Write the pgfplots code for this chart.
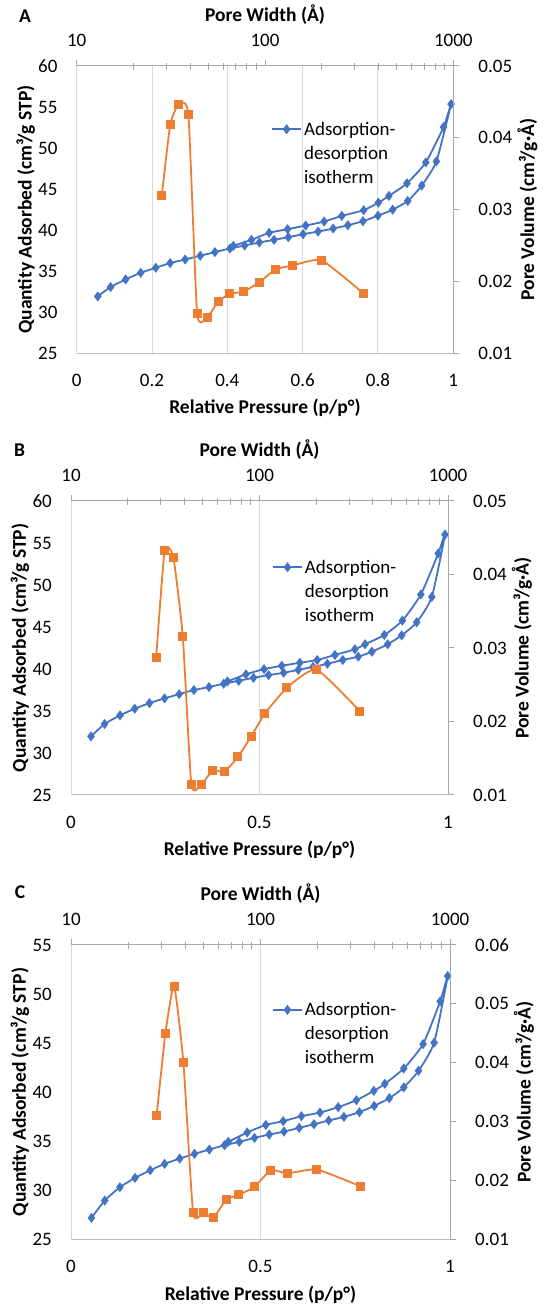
\documentclass[border=0pt]{standalone}
\usepackage{fontspec}
\setmainfont{Carlito}
\usepackage{pgfplots}
\pgfplotsset{compat=1.18}
\definecolor{xblue}{HTML}{4472C4}
\definecolor{xorange}{HTML}{ED7D31}
\definecolor{gridc}{HTML}{D9D9D9}
\definecolor{axgray}{HTML}{BFBFBF}
\definecolor{axdark}{HTML}{A6A6A6}
\newcommand{\tfont}{\fontsize{19bp}{24bp}\selectfont}
\newcommand{\lfont}{\fontsize{19.5bp}{24bp}\selectfont\bfseries}
\pgfplotsset{
 myprim/.style={
   scale only axis, anchor=south west, xmin=0, xmax=1,
   axis x line*=bottom, axis y line*=left,
   x axis line style={draw=axgray, line width=1bp, -},
   y axis line style={draw=gridc, line width=1bp, -},
   xmajorgrids, major grid style={draw=gridc, line width=1bp},
   major tick length=0pt, minor tick num=0,
   tick label style={font=\tfont},
   scaled ticks=false,
   xticklabel style={anchor=center, inner sep=0pt, yshift=-27bp},
   yticklabel style={anchor=east, inner sep=0pt, xshift=-19bp},
   every axis x label/.style={font=\lfont, at={([yshift=-55bp]axis description cs:0.5,0)}, anchor=center},
   every axis y label/.style={font=\lfont, at={([xshift=-51bp]axis description cs:0,0.5)}, anchor=center, rotate=90},
   xlabel={Relative Pressure (p/p°)},
   ylabel={Quantity Adsorbed (cm³/g STP)},
   legend image code/.code={\draw[mark repeat=2,mark phase=2,##1] plot coordinates {(0bp,6bp) (14.5bp,6bp) (29bp,6bp)};},
   legend cell align=left,
 },
 myleg/.style={legend style={at={(axis description cs:#1)}, anchor=north west, draw=none, fill=none, inner sep=0pt, font=\tfont, nodes={inner xsep=2bp, inner ysep=0pt}, cells={anchor=base west}}},
 mysec/.style={
   scale only axis, anchor=south west,
   xmin=10, xmax=1000,
   axis x line*=top, axis y line*=right,
   axis line style={draw=axdark, line width=1bp, -},
   xtick={10,100,1000}, xticklabels={10,100,1000},
   minor xtick={},
   extra x ticks={20,30,40,50,60,70,80,90,200,300,400,500,600,700,800,900},
   extra x tick labels={},
   extra x tick style={tick align=inside, major tick length=4bp, grid=none},
   tick align=outside, major tick length=6bp,
   tick style={draw=axdark, line width=1bp},
   tick label style={font=\tfont},
   scaled ticks=false,
   xticklabel style={anchor=center, inner sep=0pt, yshift=20bp},
   yticklabel style={anchor=west, inner sep=0pt, xshift=19bp},
   every axis x label/.style={font=\lfont, at={([yshift=51bp]axis description cs:0.5,1)}, anchor=center},
   every axis y label/.style={font=\lfont, at={([xshift=74bp]axis description cs:1,0.5)}, anchor=center, rotate=90},
   xlabel={Pore Width (Å)},
   ylabel={Pore Volume (cm³/g·Å)},
 },
 myblue/.style={xblue, line width=1.8bp, smooth, tension=0.35, mark=diamond*, mark size=3.6bp, mark options={solid, fill=xblue}},
 myorange/.style={xorange, line width=1.8bp, smooth, tension=0.3, mark=square*, mark size=3.6bp, mark options={solid, fill=xorange}},
}
\begin{document}
\begin{tikzpicture}
\useasboundingbox (0,0) rectangle (545bp,1306bp);
% ================= Panel A =================
\node[font=\lfont] at (25bp,1290bp) {A};
\begin{axis}[myprim, myleg={0.516,0.818}, at={(76.7bp,952.7bp)}, width=376.6bp, height=287.3bp,
  ymin=25, ymax=60, ytick={25,30,35,40,45,50,55,60}, yticklabels={25,30,35,40,45,50,55,60},
  xtick={0,0.2,0.4,0.6,0.8,1}, xticklabels={0,0.2,0.4,0.6,0.8,1}]
\addplot[myblue] coordinates {
(0.056,31.93) (0.090,33.07) (0.130,34.00) (0.170,34.81) (0.210,35.42) (0.248,35.99)
(0.288,36.43) (0.328,36.88) (0.367,37.33) (0.407,37.77) (0.446,38.13) (0.485,38.50)
(0.524,38.82) (0.562,39.15) (0.601,39.51) (0.641,39.83) (0.681,40.20) (0.720,40.60)
(0.760,41.09) (0.800,41.77) (0.839,42.50) (0.879,43.56) (0.916,45.42) (0.955,48.38)
(0.994,55.35)
(0.974,52.55) (0.927,48.26) (0.877,45.71) (0.829,44.17) (0.801,43.35) (0.762,42.43)
(0.704,41.74) (0.657,41.05) (0.608,40.56) (0.560,40.12) (0.511,39.67) (0.464,38.82)
(0.416,38.09)};
\addlegendentry{\begin{tabular}[t]{@{}l@{}}Adsorption-\\desorption\\isotherm\end{tabular}}
\end{axis}
\begin{axis}[mysec, xmode=log, at={(76.7bp,952.7bp)}, width=376.6bp, height=287.3bp,
  ymin=0.01, ymax=0.05, ytick={0.01,0.02,0.03,0.04,0.05}, yticklabels={0.01,0.02,0.03,0.04,0.05}]
\addplot[myorange] coordinates {
(28.3,0.0319) (31.4,0.04187) (34.9,0.04469) (39.2,0.0432) (43.6,0.01555) (49.3,0.0150)
(56.5,0.01721) (65.0,0.01828) (77.0,0.01860) (93.3,0.01989) (114,0.02170) (139.7,0.02221)
(199.6,0.02295) (332,0.01837)};
\end{axis}
% ================= Panel B =================
\node[font=\lfont] at (19.5bp,856bp) {B};
\begin{axis}[myprim, myleg={0.533,0.812}, at={(71bp,511bp)}, width=377bp, height=294bp,
  ymin=25, ymax=60, ytick={25,30,35,40,45,50,55,60}, yticklabels={25,30,35,40,45,50,55,60},
  xtick={0,0.5,1}, xticklabels={0,0.5,1}]
\addplot[myblue] coordinates {
(0.053,31.98) (0.089,33.45) (0.130,34.48) (0.169,35.27) (0.208,35.94) (0.248,36.50)
(0.287,37.01) (0.326,37.49) (0.366,37.85) (0.405,38.25) (0.445,38.59) (0.484,38.95)
(0.524,39.27) (0.564,39.55) (0.603,39.90) (0.642,40.25) (0.680,40.62) (0.721,41.07)
(0.762,41.47) (0.798,42.06) (0.840,42.94) (0.877,44.00) (0.917,45.56) (0.957,48.58)
(0.992,56.00)
(0.974,53.74) (0.928,48.87) (0.879,45.76) (0.831,44.05) (0.780,42.94) (0.753,42.35)
(0.700,41.67) (0.653,41.07) (0.607,40.74) (0.559,40.38) (0.512,39.99) (0.464,39.36)
(0.415,38.52)};
\addlegendentry{\begin{tabular}[t]{@{}l@{}}Adsorption-\\desorption\\isotherm\end{tabular}}
\end{axis}
\begin{axis}[mysec, xmode=log, at={(71bp,511bp)}, width=377bp, height=294bp,
  ymin=0.01, ymax=0.05, ytick={0.01,0.02,0.03,0.04,0.05}, yticklabels={0.01,0.02,0.03,0.04,0.05}]
\addplot[myorange] coordinates {
(28.3,0.02872) (31.4,0.0433) (34.9,0.04235) (39.2,0.03152) (43.5,0.0114) (49.2,0.0114)
(56.4,0.01336) (65.1,0.01317) (76.9,0.0152) (90.6,0.01802) (106.6,0.02105) (139.6,0.02458)
(200.3,0.02708) (340,0.02142)};
\end{axis}
% ================= Panel C =================
\node[font=\lfont] at (20bp,414.3bp) {C};
\begin{axis}[myprim, myleg={0.530,0.817}, at={(71bp,66.7bp)}, width=379bp, height=294.3bp,
  ymin=25, ymax=55, ytick={25,30,35,40,45,50,55}, yticklabels={25,30,35,40,45,50,55},
  xtick={0,0.5,1}, xticklabels={0,0.5,1}]
\addplot[myblue] coordinates {
(0.054,27.18) (0.089,28.95) (0.129,30.31) (0.169,31.26) (0.209,32.04) (0.247,32.69)
(0.287,33.23) (0.326,33.71) (0.365,34.15) (0.405,34.59) (0.444,34.93) (0.484,35.34)
(0.523,35.68) (0.562,35.98) (0.602,36.36) (0.641,36.73) (0.680,37.11) (0.720,37.48)
(0.761,37.96) (0.800,38.60) (0.840,39.39) (0.878,40.48) (0.917,42.18) (0.958,45.04)
(0.994,51.84)
(0.974,49.25) (0.929,44.90) (0.878,42.41) (0.828,40.85) (0.799,40.13) (0.753,39.18)
(0.705,38.47) (0.657,37.92) (0.608,37.55) (0.560,37.04) (0.514,36.66) (0.465,35.89)
(0.415,34.93)};
\addlegendentry{\begin{tabular}[t]{@{}l@{}}Adsorption-\\desorption\\isotherm\end{tabular}}
\end{axis}
\begin{axis}[mysec, xmode=log, at={(71bp,66.7bp)}, width=379bp, height=294.3bp,
  ymin=0.01, ymax=0.06, ytick={0.01,0.02,0.03,0.04,0.05,0.06}, yticklabels={0.01,0.02,0.03,0.04,0.05,0.06}]
\addplot[myorange] coordinates {
(28.3,0.03097) (31.5,0.04503) (35.0,0.05303) (39.2,0.03998) (44.1,0.01447) (49.9,0.01447)
(56.6,0.01369) (65.9,0.01675) (77.0,0.01754) (93.1,0.01896) (113.5,0.02173) (139,0.02122)
(198.6,0.02185) (336.5,0.01901)};
\end{axis}
\end{tikzpicture}
\end{document}
